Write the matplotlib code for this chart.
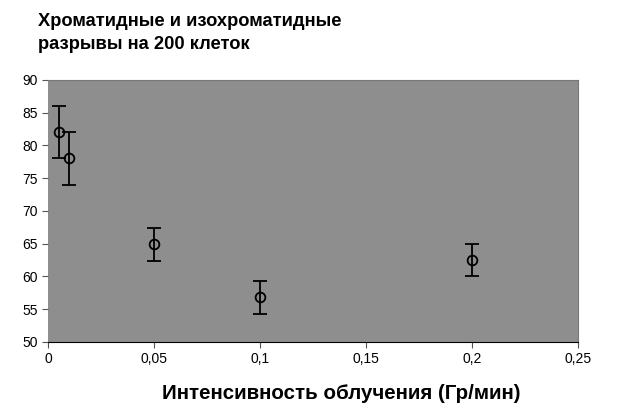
import numpy as np
from matplotlib import pyplot as plt

plt.rcParams['font.family'] = ['Liberation Sans', 'DejaVu Sans']

# intensity (Gy/min) and breaks per 200 cells
dose_rate = [0.005, 0.01, 0.05, 0.1, 0.2]
breaks = [82.0, 78.0, 64.9, 56.8, 62.5]
err = [4.0, 4.0, 2.5, 2.5, 2.5]

x_ticks = [0, 0.05, 0.1, 0.15, 0.2, 0.25]
x_labels = ['0', '0,05', '0,1', '0,15', '0,2', '0,25']
y_ticks = [50, 55, 60, 65, 70, 75, 80, 85, 90]

fig = plt.figure(figsize=(6.18, 4.18), dpi=100)
ax = fig.add_axes([0.078, 0.182, 0.857, 0.627])
ax.set_facecolor('#8e8e8e')

ax.errorbar(dose_rate, breaks, yerr=err, fmt='o', color='black',
            markerfacecolor='none', markeredgecolor='black', markersize=7,
            markeredgewidth=1.3, elinewidth=1.3, capsize=5, capthick=1.3)

ax.set_xlim(0, 0.25)
ax.set_ylim(50, 90)
ax.set_xticks(x_ticks)
ax.set_xticklabels(x_labels)
ax.set_yticks(y_ticks)
ax.tick_params(labelsize=10, length=4, color='#555555')
for s in ['top', 'right']:
    ax.spines[s].set_color('#777777')
ax.spines['left'].set_visible(False)

fig.text(0.062, 0.97, 'Хроматидные и изохроматидные\nразрывы на 200 клеток',
         fontsize=13.2, fontweight='bold', va='top', ha='left', linespacing=1.5)
ax.set_xlabel('Интенсивность облучения (Гр/мин)', fontsize=14.8,
              fontweight='bold', labelpad=12)
ax.xaxis.set_label_coords(0.553, -0.16)

plt.savefig('out.png')
